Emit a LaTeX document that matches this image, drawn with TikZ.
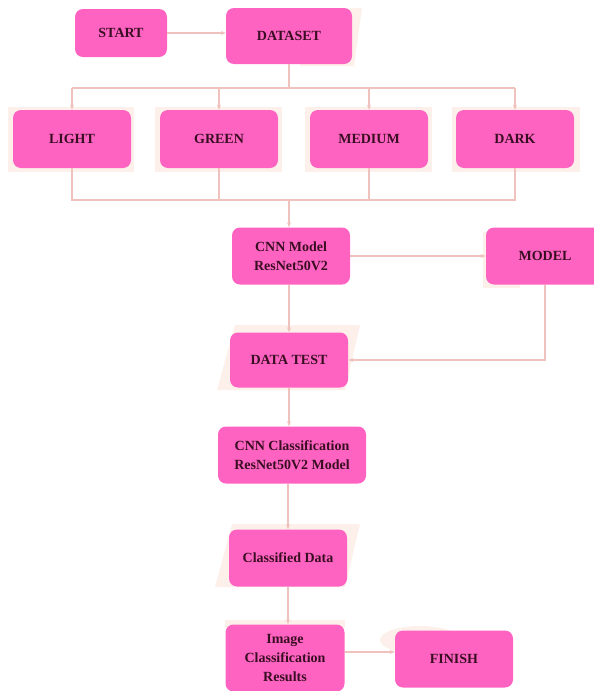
\documentclass[tikz,border=0pt]{standalone}
\usepackage{fontspec}
\setmainfont{Liberation Serif}
\usetikzlibrary{arrows.meta}
\definecolor{boxpink}{HTML}{FF63C2}
\definecolor{txt}{HTML}{3A0E22}
\definecolor{linepk}{HTML}{F0C2BE}
\definecolor{ghost}{HTML}{FDF0EA}
\tikzset{
  box/.style={draw=none, fill=boxpink, rounded corners=8pt, text=txt,
    font=\bfseries\fontsize{14}{19}\selectfont, align=center, inner sep=0pt},
  conn/.style={draw=linepk, line width=1.6pt},
  arr/.style={conn, -{Stealth[length=5pt,width=4pt]}},
  ghostshape/.style={fill=ghost, draw=none}
}
\begin{document}
\begin{tikzpicture}[x=1pt,y=-1pt]
\useasboundingbox (0,0) rectangle (594,691);
\fill[white] (0,0) rectangle (594,691);
% faint background shapes
\fill[ghostshape] (300,10) -- (362,8) -- (354,66) -- (300,66) -- cycle;
\fill[ghostshape] (8,107) rectangle (134,172);
\fill[ghostshape] (155,107) rectangle (282,172);
\fill[ghostshape] (305,107) rectangle (432,172);
\fill[ghostshape] (452,107) rectangle (580,172);
\fill[ghostshape] (483,232) rectangle (520,288);
\fill[ghostshape] (217,390) -- (235,325) -- (360,325) -- (345,390) -- cycle;
\fill[ghostshape] (215,587) -- (232,524) -- (360,524) -- (345,587) -- cycle;
\fill[ghostshape] (225,620) rectangle (345,628);
\fill[ghostshape] (420,640) ellipse (40 and 14);
% nodes
\node[box, minimum width=92, minimum height=48] (start) at (121,33) {START};
\node[box, minimum width=126, minimum height=56] (dataset) at (289,36) {DATASET};
\node[box, minimum width=118, minimum height=58] (light) at (72,139) {LIGHT};
\node[box, minimum width=118, minimum height=58] (green) at (219,139) {GREEN};
\node[box, minimum width=118, minimum height=58] (medium) at (369,139) {MEDIUM};
\node[box, minimum width=118, minimum height=58] (dark) at (515,139) {DARK};
\node[box, minimum width=118, minimum height=57] (cnn) at (291,256) {CNN Model\\ResNet50V2};
\node[box, minimum width=118, minimum height=57] (model) at (545,256) {MODEL};
\node[box, minimum width=118, minimum height=55] (datatest) at (289,360) {DATA TEST};
\node[box, minimum width=148, minimum height=57] (cnnclass) at (292,455) {CNN Classification\\ResNet50V2 Model};
\node[box, minimum width=118, minimum height=57] (classified) at (288,558) {Classified Data};
\node[box, minimum width=119, minimum height=67] (results) at (285,658) {Image\\Classification\\Results};
\node[box, minimum width=118, minimum height=57] (finish) at (454,659) {FINISH};
% bus coordinates
\coordinate (tb) at (289,88);
\coordinate (bb) at (289,200);
% connectors
\draw[arr] (start.east) -- (dataset.west |- start.east);
\draw[conn] (dataset.south) -- (tb);
\draw[conn] (light.north |- tb) -- (dark.north |- tb);
\draw[arr] (light.north |- tb) -- (light.north);
\draw[arr] (green.north |- tb) -- (green.north);
\draw[arr] (medium.north |- tb) -- (medium.north);
\draw[arr] (dark.north |- tb) -- (dark.north);
\draw[conn] (light.south) -- (light.south |- bb) -- (dark.south |- bb) -- (dark.south);
\draw[conn] (green.south) -- (green.south |- bb);
\draw[conn] (medium.south) -- (medium.south |- bb);
\draw[arr] (bb) -- (bb |- cnn.north);
\draw[arr] (cnn.east) -- (model.west |- cnn.east);
\draw[arr] (cnn.south -| datatest.north) -- (datatest.north);
\draw[arr] (model.south) -- (model.south |- datatest.east) -- (datatest.east);
\draw[arr] (datatest.south) -- (datatest.south |- cnnclass.north);
\draw[arr] (cnnclass.south -| classified.north) -- (classified.north);
\draw[arr] (classified.south) -- (classified.south |- results.north);
\draw[arr] (results.east |- 0,652) -- (finish.west |- 0,652);
\end{tikzpicture}
\end{document}
